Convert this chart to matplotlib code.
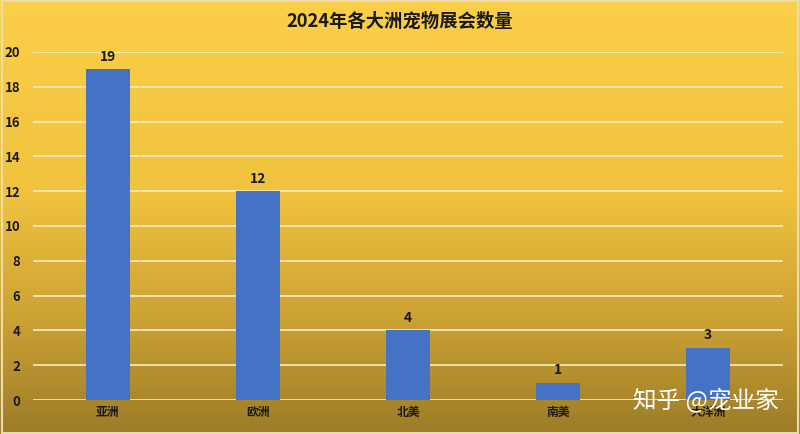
import matplotlib
matplotlib.use("Agg")
import matplotlib.pyplot as plt
import numpy as np
from matplotlib.colors import LinearSegmentedColormap

plt.rcParams['font.family'] = ['Noto Sans CJK SC', 'DejaVu Sans']

categories = ['亚洲', '欧洲', '北美', '南美', '大洋洲']
values = [19, 12, 4, 1, 3]
yticks = [0, 2, 4, 6, 8, 10, 12, 14, 16, 18, 20]
title = '2024年各大洲宠物展会数量'
watermark = '知乎 @宠业家'

fig = plt.figure(figsize=(8, 4.34), dpi=100)

# gradient background
bg = fig.add_axes([0, 0, 1, 1], zorder=-10)
cmap = LinearSegmentedColormap.from_list('bg', [(0.0, '#fbd048'), (0.45, '#f0c23e'), (0.75, '#caa034'), (1.0, '#9c7c28')])
grad = np.linspace(0, 1, 256).reshape(-1, 1)
bg.imshow(grad, aspect='auto', cmap=cmap, extent=[0, 1, 0, 1], origin='upper')
bg.set_xlim(0, 1); bg.set_ylim(0, 1)
bg.axis('off')
bg.add_patch(plt.Rectangle((0.002, 0.003), 0.996, 0.994, fill=False, edgecolor='#e8dcb0', lw=1.5, transform=bg.transAxes))

ax = fig.add_axes([0.041, 0.0783, 0.938, 0.802])
ax.patch.set_alpha(0)
x = np.arange(len(categories))
ax.bar(x, values, width=0.29, color='#4472c4', zorder=3)
ax.set_xlim(-0.5, len(categories) - 0.5)
ax.set_ylim(0, 20)
ax.set_yticks(yticks)
ax.set_yticklabels([str(t) for t in yticks], fontsize=9.5, fontweight='bold', color='#1a1a1a')
ax.set_xticks(x)
ax.set_xticklabels(categories, fontsize=8.5, fontweight='bold', color='#1a1a1a')
ax.tick_params(axis='x', length=0, pad=4)
ax.tick_params(axis='y', length=0, pad=9)
ax.grid(axis='y', color='#f5ecc8', lw=1.2, zorder=1)
for s in ax.spines.values():
    s.set_visible(False)
for xi, v in zip(x, values):
    ax.annotate(str(v), (xi, v), xytext=(0, 4), textcoords='offset points',
                ha='center', va='bottom', fontsize=10, fontweight='bold', color='#1a1a1a')

fig.text(0.5, 0.950, title, ha='center', va='center', fontsize=13.2, fontweight='bold', color='#1a1a1a')
fig.text(0.973, 0.080, watermark, ha='right', va='center', fontsize=17, color='white')

fig.savefig('out.png', dpi=100)
